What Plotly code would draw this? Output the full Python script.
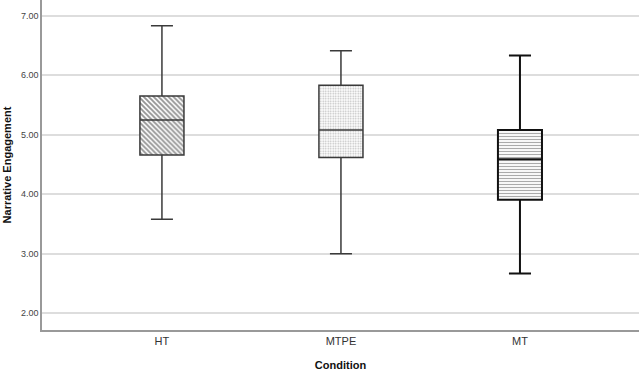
import plotly.graph_objects as go

# ---------------------------------------
# Data
# ---------------------------------------
conditions = ["HT", "MTPE", "MT"]
lower_whisker = [3.58, 3.00, 2.67]
q1 = [4.66, 4.62, 3.91]
median = [5.25, 5.08, 4.59]
q3 = [5.65, 5.83, 5.08]
upper_whisker = [6.83, 6.41, 6.33]

patterns = ["\\", ".", "-"]
pattern_sizes = [3.5, 2.5, 3]
pattern_solidity = [0.55, 0.35, 0.4]
pattern_colors = ["#2a2a2a", "#777777", "#555555"]
line_colors = ["#3a3a3a", "#3a3a3a", "#111111"]
line_widths = [1.5, 1.5, 2]

box_w = 0.246

fig = go.Figure()

# patterned box fills
for i, c in enumerate(conditions):
    fig.add_trace(go.Bar(
        x=[c], y=[q3[i] - q1[i]], base=[q1[i]], width=box_w,
        marker=dict(color="white", line=dict(width=0),
                    pattern=dict(shape=patterns[i], fgcolor=pattern_colors[i],
                                 bgcolor="white", size=pattern_sizes[i],
                                 solidity=pattern_solidity[i])),
        showlegend=False, hoverinfo="skip"
    ))

# box outlines, medians and whiskers
for i, c in enumerate(conditions):
    fig.add_trace(go.Box(
        x=[c], q1=[q1[i]], median=[median[i]], q3=[q3[i]],
        lowerfence=[lower_whisker[i]], upperfence=[upper_whisker[i]],
        width=box_w, whiskerwidth=0.5,
        fillcolor="rgba(0,0,0,0)",
        line=dict(color=line_colors[i], width=line_widths[i]),
        showlegend=False
    ))

fig.update_layout(
    width=640, height=371,
    margin=dict(l=42, r=1, t=0, b=41),
    paper_bgcolor="white", plot_bgcolor="white",
    barmode="overlay",
    font=dict(family="Liberation Sans, Arial", color="#222222"),
    xaxis=dict(
        title=dict(text="<b>Condition</b>", font=dict(size=11, color="#111111"), standoff=16),
        range=[-0.67, 2.665],
        showline=True, linecolor="#999999", linewidth=1.5,
        ticks="", tickfont=dict(size=11, color="#333333"),
        showgrid=False
    ),
    yaxis=dict(
        title=dict(text="<b>Narrative Engagement</b>", font=dict(size=11, color="#111111"), standoff=7),
        range=[1.72, 7.264],
        tickvals=[2, 3, 4, 5, 6, 7], tickformat=".2f",
        tickfont=dict(size=9, color="#444444"),
        showline=True, linecolor="#999999", linewidth=1.5,
        showgrid=True, gridcolor="#dddddd", gridwidth=1.5,
        zeroline=False, ticks=""
    )
)

fig.write_html("out.html", config={"displayModeBar": False},
               post_script="document.body.style.margin='0';")
